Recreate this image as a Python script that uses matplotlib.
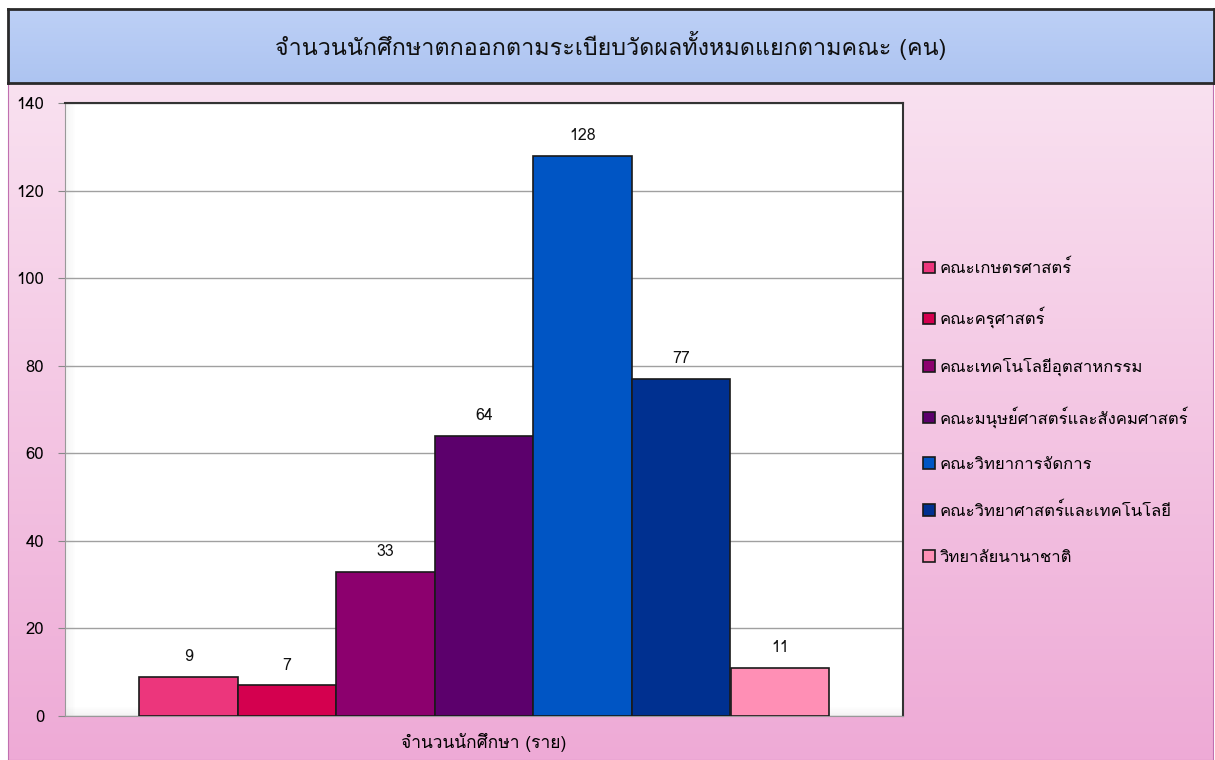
import numpy as np
import matplotlib
matplotlib.use("Agg")
import matplotlib.pyplot as plt
from matplotlib import font_manager
from matplotlib.ft2font import FT2Font
from matplotlib.colors import LinearSegmentedColormap

# data
title = "จำนวนนักศึกษาตกออกตามระเบียบวัดผลทั้งหมดแยกตามคณะ (คน)"
xlabel = "จำนวนนักศึกษา (ราย)"
faculties = ["คณะเกษตรศาสตร์", "คณะครุศาสตร์", "คณะเทคโนโลยีอุตสาหกรรม",
             "คณะมนุษย์ศาสตร์และสังคมศาสตร์", "คณะวิทยาการจัดการ",
             "คณะวิทยาศาสตร์และเทคโนโลยี", "วิทยาลัยนานาชาติ"]
values = [9, 7, 33, 64, 128, 77, 11]
colors = ["#ec367c", "#d4004f", "#8c006e", "#5c006c", "#0055c4", "#003090", "#ff8fb5"]
yticks = [0, 20, 40, 60, 80, 100, 120, 140]

# look for a font that has thai glyphs
thai_font = None
for f in font_manager.fontManager.ttflist:
    try:
        if 0x0E08 in FT2Font(f.fname).get_charmap():
            thai_font = f.name
            break
    except Exception:
        pass
fams = [thai_font, "DejaVu Sans"] if thai_font else ["DejaVu Sans"]
plt.rcParams["font.family"] = fams

W, H = 1215, 760
fig = plt.figure(figsize=(W / 100, H / 100), dpi=100)
fig.patch.set_facecolor("white")
grad = np.linspace(0, 1, 256).reshape(-1, 1)

# pink background with gradient
bg = fig.add_axes([8 / W, 0, 1205 / W, (H - 83) / H], zorder=-2)
pink = LinearSegmentedColormap.from_list("p", ["#eeaad6", "#f9e1f0"])
bg.imshow(grad, aspect="auto", cmap=pink, origin="lower", extent=[0, 1, 0, 1])
bg.set_xlim(0, 1); bg.set_ylim(0, 1)
for s in bg.spines.values():
    s.set_color("#c070b0")
bg.set_xticks([]); bg.set_yticks([])

# title box
tb = fig.add_axes([8 / W, (H - 83) / H, 1206 / W, 74 / H], zorder=-1)
blue = LinearSegmentedColormap.from_list("b", ["#adc4f1", "#bdd0f6"])
tb.imshow(grad, aspect="auto", cmap=blue, origin="lower", extent=[0, 1, 0, 1])
tb.set_xlim(0, 1); tb.set_ylim(0, 1)
for s in tb.spines.values():
    s.set_color("#2a2a2a")
    s.set_linewidth(2)
tb.set_xticks([]); tb.set_yticks([])
tb.text(0.5, 0.5, title, ha="center", va="center", fontsize=16.8, color="#101010")

# main plot
ax = fig.add_axes([65 / W, (H - 716) / H, 838 / W, 613 / H], zorder=2)
ax.set_facecolor("white")
# soft shading on the left wall and the floor
for k in range(8):
    a = 0.07 * (8 - k) / 8
    ax.axvspan(-0.5 + k * 0.0015, -0.5 + (k + 1) * 0.0015, color="#606060", alpha=a, lw=0, zorder=1)
    ax.axhspan(k * 0.25, (k + 1) * 0.25, color="#606060", alpha=a, lw=0, zorder=1)

w = 98.6 / 838
n = len(values)
for i in range(n):
    x = (i - (n - 1) / 2) * w
    ax.bar(x, values[i], width=w, color=colors[i], edgecolor="#1a1a1a",
           linewidth=1.2, label=faculties[i], zorder=3)
    ax.text(x, values[i] + 2.6, str(values[i]), ha="center", va="bottom",
            fontsize=11.5, color="#111111")
ax.set_xlim(-0.5, 0.5)
ax.set_ylim(0, 140)
ax.set_yticks(yticks)
ax.tick_params(axis="y", labelsize=12, length=5, color="#888888", pad=10)
ax.set_xticks([])
ax.grid(axis="y", color="#a0a0a0", linewidth=1, zorder=0)
ax.spines["top"].set_color("#333333")
ax.spines["right"].set_color("#333333")
ax.spines["top"].set_linewidth(1.5)
ax.spines["right"].set_linewidth(1.5)
ax.spines["left"].set_color("#999999")
ax.spines["bottom"].set_color("#999999")
ax.set_xlabel(xlabel, fontsize=12.5, labelpad=12)

leg = fig.legend(loc="upper left", bbox_to_anchor=(908 / W, 1 - 245 / H),
                 frameon=False, fontsize=12, handlelength=0.7, handleheight=0.7,
                 handletextpad=0.3, labelspacing=1.78)

fig.savefig("out.png", dpi=100)
